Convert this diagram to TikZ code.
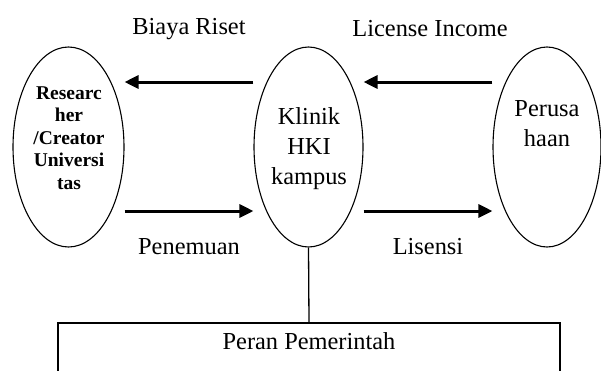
\documentclass[tikz,border=0pt]{standalone}
\usepackage{fontspec}
\setmainfont{Liberation Serif}
\usetikzlibrary{shapes.geometric,arrows.meta}
\begin{document}
\begin{tikzpicture}[x=1pt,y=-1pt,
  oval/.style={draw,ellipse,line width=1.1pt,inner sep=0pt},
  flow/.style={line width=3pt,-{Triangle[length=14pt,width=13pt]}},
  lbl/.style={font=\fontsize{24.4}{30}\selectfont,inner sep=0pt,align=center},
  blbl/.style={font=\fontsize{19.5}{22.5}\selectfont\bfseries,inner sep=0pt,align=center}]
\clip (0,0) rectangle (601,370);
\node[oval,minimum width=111pt,minimum height=200pt] (lft) at (68.5,147) {};
\node[oval,minimum width=109pt,minimum height=200pt] (mid) at (308.5,147) {};
\node[oval,minimum width=108pt,minimum height=200pt] (rgt) at (547,147) {};
\node[blbl] (lt) at (69,138) {Researc\\her\\/Creator\\Universi\\tas};
\node[lbl] (mt) at (309,149) {Klinik\\HKI\\kampus};
\node[lbl] (rt) at (547,124) {Perusa\\haan};
\draw[flow] ([yshift=65pt]mid.west) -- ([yshift=65pt]lft.east);
\draw[flow] ([yshift=65pt]rgt.west) -- ([yshift=65pt]mid.east);
\draw[flow] ([yshift=-64pt]lft.east) -- ([yshift=-64pt]mid.west);
\draw[flow] ([yshift=-64pt]mid.east) -- ([yshift=-64pt]rgt.west);
\node[lbl] (l1) at (189,29) {Biaya Riset};
\node[lbl] (l2) at (430,29) {License Income};
\node[lbl] (l3) at (189,247) {Penemuan};
\node[lbl] (l4) at (428,247) {Lisensi};
\node[draw,line width=2pt,minimum width=502pt,minimum height=80pt,inner sep=0pt,anchor=north] (box) at (309,322) {};
\node[lbl] (peran) at (309,341) {Peran Pemerintah};
\draw[line width=1.3pt] (mid.south) -- (box.north);
\end{tikzpicture}
\end{document}
